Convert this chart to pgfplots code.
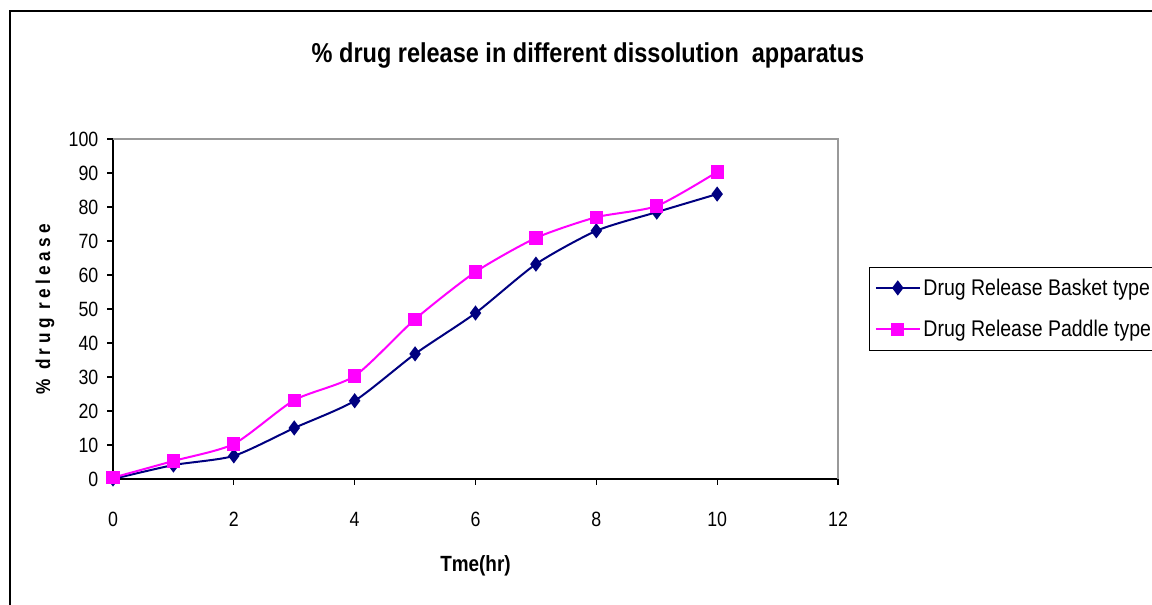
\documentclass[border=0pt]{standalone}
\usepackage{pgfplots}
\pgfplotsset{compat=1.18}
\usepackage{fontspec}
\setmainfont{Liberation Sans}[FakeStretch=0.86]
\definecolor{navy}{HTML}{000080}
\definecolor{mag}{HTML}{FF00FF}
\begin{document}
\begin{tikzpicture}[x=0.75pt,y=0.75pt]
\useasboundingbox (0,0) rectangle (1152,605);
% outer chart frame
\draw[black,line width=0.9pt] (10,-5) -- (10,594) -- (1160,594);
\node[font=\bfseries\fontsize{20.5}{24}\selectfont] at (588,549) {\% drug release in different dissolution\ \ apparatus};
\begin{axis}[
  at={(84.75pt,94.5pt)}, anchor=south west,
  width=543.75pt, height=255pt, scale only axis,
  xmin=0, xmax=12, ymin=0, ymax=100,
  xtick={0,2,...,12}, ytick={0,10,...,100},
  axis lines=left, axis line style={-, black, line width=0.9pt},
  tick align=outside, major tick length=4.5pt,
  tick style={black, line width=0.8pt},
  /pgf/number format/assume math mode=true,
  ticklabel style={font=\fontsize{15.5}{18}\selectfont},
  xticklabel style={yshift=-17pt},
  yticklabel style={xshift=-3pt},
  xlabel={\bfseries Tme(hr)},
  xlabel style={font=\fontsize{16.5}{18}\selectfont, at={(rel axis cs:0.5,0)}, anchor=center, yshift=-65pt},
  ylabel={\addfontfeatures{LetterSpace=22}\bfseries \% drug release},
  ylabel style={font=\fontsize{15}{18}\selectfont, at={(-0.0938,0.5)}, anchor=center},
  legend style={at={(1.0428,0.6235)}, anchor=north west, draw=black, line width=0.6pt,
    font=\fontsize{17}{20}\selectfont, inner xsep=4pt, inner ysep=6.5pt,
    row sep=13.25pt, cells={anchor=west}},
  legend image code/.code={\draw[mark repeat=2,mark phase=2] plot coordinates {(0cm,0cm) (0.58cm,0cm) (1.16cm,0cm)};},
  clip=false,
]
\draw[gray!80, line width=1pt] (rel axis cs:0,1) -- (rel axis cs:1,1) -- (rel axis cs:1,0);
\addplot[navy, line width=1.5pt, smooth, tension=0.4, mark=diamond*, mark size=4.5pt,
  mark options={solid, fill=navy}] coordinates {
  (0,0) (1,4.1) (2,6.8) (3,15) (4,23) (5,36.8) (6,48.8) (7,63.2) (8,73) (9,78.5) (10,83.8)};
\addlegendentry{Drug Release Basket type}
\addplot[mag, line width=1.5pt, smooth, tension=0.4, mark=square*, mark size=4.2pt,
  mark options={solid, fill=mag}] coordinates {
  (0,0.4) (1,5.3) (2,10.3) (3,23.2) (4,30.3) (5,47) (6,60.9) (7,70.9) (8,77) (9,80.3) (10,90.3)};
\addlegendentry{Drug Release Paddle type}
\end{axis}
\end{tikzpicture}
\end{document}
